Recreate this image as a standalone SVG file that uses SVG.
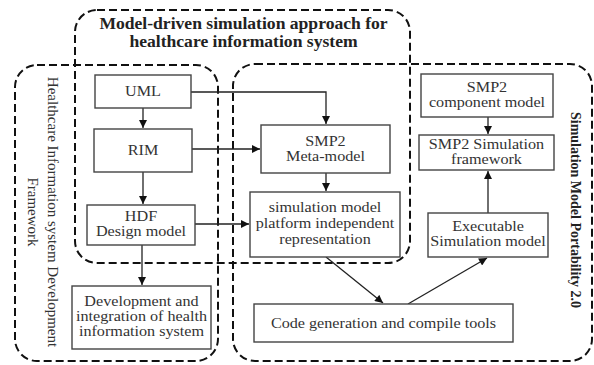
<svg xmlns="http://www.w3.org/2000/svg" width="594" height="365" viewBox="0 0 594 365">
<defs>
<marker id="ah" viewBox="0 0 10 10" refX="10" refY="5" markerWidth="9" markerHeight="8" markerUnits="userSpaceOnUse" orient="auto">
<path d="M0,0 L10,5 L0,10 z" fill="#111"/>
</marker>
</defs>
<style>
.dash{fill:none;stroke:#111;stroke-width:2;stroke-dasharray:8 4;}
.box{fill:#fff;stroke:#444;stroke-width:1.4;}
.t{font-family:"Liberation Serif","Times New Roman",serif;font-size:14.7px;fill:#333;text-anchor:middle;}
.ttl{font-family:"Liberation Serif","Times New Roman",serif;font-size:16px;font-weight:bold;fill:#222;text-anchor:middle;}
.vt{font-family:"Liberation Serif","Times New Roman",serif;font-size:15px;fill:#333;text-anchor:middle;}
.vb{font-family:"Liberation Serif","Times New Roman",serif;font-size:14px;font-weight:bold;fill:#222;text-anchor:middle;}
.c{fill:none;stroke:#222;stroke-width:1.3;}
</style>
<rect width="594" height="365" fill="#fff"/>

<g id="region-model-driven">
<rect class="dash" x="75" y="10" width="335" height="253" rx="22" ry="22"/>
<text class="ttl" transform="translate(243.5,29) scale(1.1,1)"><tspan x="0" y="0">Model-driven simulation approach for</tspan><tspan x="0" y="18">healthcare information system</tspan></text>
</g>
<g id="region-healthcare">
<rect class="dash" x="15" y="65" width="203" height="296" rx="22" ry="22"/>
<text class="vt" transform="translate(48,212) rotate(90)"><tspan x="0" y="0">Healthcare Information system Development</tspan><tspan x="0" y="20">Framework</tspan></text>
</g>
<g id="region-smp">
<rect class="dash" x="233" y="64" width="359" height="297" rx="22" ry="22"/>
<text class="vb" transform="translate(570.5,210) rotate(90)">Simulation Model Portability 2.0</text>
</g>

<g id="connectors">
<path class="c" d="M191,92 H326 V124" marker-end="url(#ah)"/>
<path class="c" d="M143,108 V128" marker-end="url(#ah)"/>
<path class="c" d="M192,149 H260" marker-end="url(#ah)"/>
<path class="c" d="M143,172 V204" marker-end="url(#ah)"/>
<path class="c" d="M195,224 H249" marker-end="url(#ah)"/>
<path class="c" d="M142,245 V285" marker-end="url(#ah)"/>
<path class="c" d="M326,173 V191" marker-end="url(#ah)"/>
<path class="c" d="M326,257 L383,303" marker-end="url(#ah)"/>
<path class="c" d="M408,304 L487,258" marker-end="url(#ah)"/>
<path class="c" d="M488,213 V171" marker-end="url(#ah)"/>
<path class="c" d="M488,117 V134" marker-end="url(#ah)"/>
</g>

<g id="uml">
<rect class="box" x="95" y="75" width="96" height="33"/>
<text class="t" transform="translate(143,96) scale(1.1,1)">UML</text>
</g>
<g id="rim">
<rect class="box" x="94" y="129" width="98" height="43"/>
<text class="t" transform="translate(143,155) scale(1.1,1)">RIM</text>
</g>
<g id="hdf">
<rect class="box" x="87" y="205" width="108" height="40"/>
<text class="t" transform="translate(141,221) scale(1.1,1)"><tspan x="0" y="0">HDF</tspan><tspan x="0" y="15">Design model</tspan></text>
</g>
<g id="development">
<rect class="box" x="72" y="286" width="139" height="63"/>
<text class="t" transform="translate(141.5,306) scale(1.1,1)"><tspan x="0" y="0">Development and</tspan><tspan x="0" y="15">integration of health</tspan><tspan x="0" y="30">information system</tspan></text>
</g>
<g id="smp2-meta">
<rect class="box" x="261" y="125" width="129" height="48"/>
<text class="t" transform="translate(325.5,146) scale(1.1,1)"><tspan x="0" y="0">SMP2</tspan><tspan x="0" y="15">Meta-model</tspan></text>
</g>
<g id="pim">
<rect class="box" x="250" y="192" width="150" height="65"/>
<text class="t" transform="translate(325,212) scale(1.1,1)"><tspan x="0" y="0">simulation model</tspan><tspan x="0" y="16">platform independent</tspan><tspan x="0" y="32">representation</tspan></text>
</g>
<g id="smp2-component">
<rect class="box" x="421" y="74" width="132" height="43"/>
<text class="t" transform="translate(487,92) scale(1.1,1)"><tspan x="0" y="0">SMP2</tspan><tspan x="0" y="15">component model</tspan></text>
</g>
<g id="smp2-framework">
<rect class="box" x="419" y="135" width="135" height="35"/>
<text class="t" transform="translate(486.5,149) scale(1.1,1)"><tspan x="0" y="0">SMP2 Simulation</tspan><tspan x="0" y="15">framework</tspan></text>
</g>
<g id="executable">
<rect class="box" x="428" y="213" width="120" height="44"/>
<text class="t" transform="translate(488,231) scale(1.1,1)"><tspan x="0" y="0">Executable</tspan><tspan x="0" y="15">Simulation model</tspan></text>
</g>
<g id="codegen">
<rect class="box" x="254" y="304" width="259" height="38"/>
<text class="t" transform="translate(383.5,328) scale(1.1,1)">Code generation and compile tools</text>
</g>
</svg>
